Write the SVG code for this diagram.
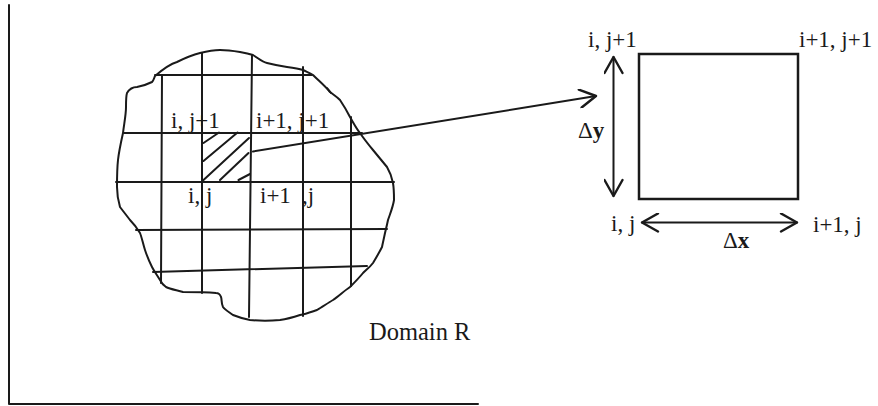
<svg xmlns="http://www.w3.org/2000/svg" width="878" height="406" viewBox="0 0 878 406">
<defs>
<style>
.ln{fill:none;stroke:#1a1a1a;stroke-width:2;stroke-linecap:round;stroke-linejoin:round}
.bx{fill:none;stroke:#1a1a1a;stroke-width:2.5}
.t{font-family:"Liberation Serif","Times New Roman",serif;font-size:23px;fill:#1a1a1a}
.b{font-weight:bold}
</style>
<marker id="open" viewBox="0 0 20 20" refX="18" refY="10" markerWidth="20" markerHeight="20" markerUnits="userSpaceOnUse" orient="auto-start-reverse">
<path d="M2,1 L18,10 L2,19" fill="none" stroke="#1a1a1a" stroke-width="2.4" stroke-linecap="round" stroke-linejoin="round"/>
</marker>
</defs>
<rect width="878" height="406" fill="#fff"/>
<g id="axes">
<path class="ln" d="M9,5 L9,404 L478,404"/>
</g>
<g id="domain">
<path class="ln" d="M155,76 C162,70 170,64 177,62 C185,58 192,55 200,53 C208,51 214,50 220,50 C228,50 234,51 240,52 C246,53 250,54 253,55 C258,58 262,62 267,63 C275,65 280,66 287,67 C295,68 300,69 303,70 C307,72 310,73 313,75 C319,81 325,86 330,92 C334,95 337,97 340,100 C344,106 347,111 350,117 C353,122 356,128 360,133 C364,139 368,144 373,150 C378,156 382,161 387,167 C390,172 392,178 393,183 C394,189 394,194 394,200 C393,207 390,214 388,220 C387,225 386,229 385,233 C384,238 383,242 382,247 C379,253 376,258 373,263 C370,267 366,270 363,273 C359,278 355,282 350,287 C344,291 339,296 333,300 C328,303 322,307 317,310 C311,312 306,314 300,315 C294,317 287,319 280,320 C270,321 260,321 250,320 C244,319 238,317 233,315 C229,312 225,310 223,307 C221,303 222,299 221,297 C220,294 218,293 216,293 C205,292 195,292 183,292 C176,290 170,289 166,287 C163,285 161,282 160,280 C157,275 154,271 152,267 C149,261 147,256 145,250 C143,244 142,238 140,233 C137,228 134,224 130,220 C127,216 123,211 120,207 C118,200 117,193 117,187 C117,178 117,169 118,160 C119,151 121,142 123,133 C124,124 126,115 126,107 C126,101 126,96 127,93 C130,88 133,87 137,87 C143,86 148,84 152,82 C154,80 154,78 155,76 Z"/>
<path class="ln" d="M327,88 L331,93"/>
</g>
<g id="grid">
<path class="ln" d="M162,75 L161,283"/>
<path class="ln" d="M202,53 L202,293"/>
<path class="ln" d="M252,55 L249,317"/>
<path class="ln" d="M303,67 L303,316"/>
<path class="ln" d="M351,117 L351,286"/>
<path class="ln" d="M155,75 L312,75"/>
<path class="ln" d="M124,133 L362,133"/>
<path class="ln" d="M116,182 L394,182"/>
<path class="ln" d="M136,230 L387,229"/>
<path class="ln" d="M153,272 L367,266"/>
</g>
<g id="hatch">
<path class="ln" d="M203.5,143 L219,132.5"/>
<path class="ln" d="M203.5,161 L237.5,132.5"/>
<path class="ln" d="M203.5,180 L249,138"/>
<path class="ln" d="M220,180 L248.5,153"/>
<path class="ln" d="M238.5,180 L250,174"/>
</g>
<g id="grid-labels">
<text class="t" x="171" y="128">i, j+1</text>
<text class="t" x="256" y="128">i+1, j+1</text>
<text class="t" x="188" y="203">i, j</text>
<text class="t" x="260" y="203">i+1 <tspan x="302">,j</tspan></text>
<text class="t" x="369" y="340" style="font-size:24.5px">Domain R</text>
</g>
<g id="cell">
<rect class="bx" x="639" y="54" width="159" height="145"/>
<text class="t" x="588" y="46.5">i, j+1</text>
<text class="t" x="799" y="47">i+1, j+1</text>
<text class="t" x="611" y="231">i, j</text>
<text class="t" x="813" y="232">i+1, j</text>
<text class="t" x="578" y="138">Δ<tspan class="b">y</tspan></text>
<text class="t" x="723" y="248">Δ<tspan class="b">x</tspan></text>
</g>
<g id="connectors">
<path class="ln" d="M253,151.5 L596,96" marker-end="url(#open)"/>
<path class="ln" d="M613.5,57 L613.5,196" marker-start="url(#open)" marker-end="url(#open)"/>
<path class="ln" d="M642,222.5 L797,222.5" marker-start="url(#open)" marker-end="url(#open)"/>
</g>
</svg>
